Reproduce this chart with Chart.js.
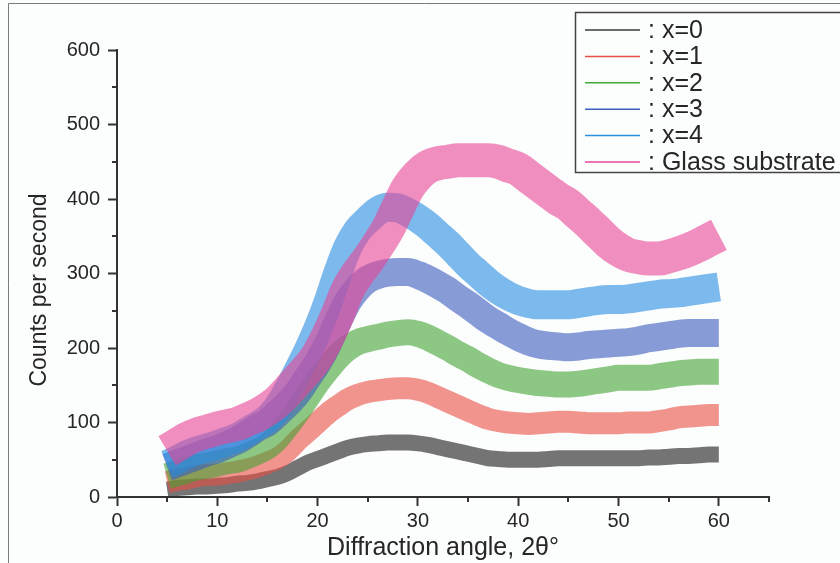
<!DOCTYPE html>
<html>
<head>
<meta charset="utf-8">
<script src="https://cdn.jsdelivr.net/npm/chart.js@4.4.1/dist/chart.umd.min.js"></script>
<style>
  html, body { margin: 0; padding: 0; background: #fcfdfd; }
  #wrap { width: 840px; height: 563px; }
</style>
</head>
<body>
<div id="wrap"><canvas id="xrd"></canvas></div>
<script>
// 2theta positions (degrees)
const angles = [5, 6, 7, 8, 9, 10, 11, 12, 13, 14, 15, 16, 17, 18, 19, 20, 21, 22, 23, 24, 25, 26, 27, 28, 29, 30,
    31, 32, 33, 34, 35, 36, 37, 38, 39, 40, 41, 42, 43, 44, 45, 46, 47, 48, 49, 50, 51, 52, 53, 54, 55, 56, 57, 58, 59, 60];

// counts per second (middle of each noisy band)
const countsX0 = [10, 12, 13, 14, 14, 15, 16, 18, 19, 21, 24, 27, 32, 39, 46, 51, 56, 61, 66, 69, 71, 72, 73, 73, 73, 72,
    70, 67, 64, 61, 58, 55, 52, 51, 50, 50, 50, 50, 51, 52, 52, 52, 52, 52, 52, 52, 52, 52, 53, 53, 54, 55, 55, 56, 57, 57];
const countsX1 = [20, 23, 25, 28, 30, 30, 32, 34, 37, 41, 46, 52, 62, 76, 88, 100, 112, 122, 131, 137, 141, 143, 145, 146, 146, 144,
    140, 134, 128, 122, 116, 110, 105, 102, 100, 99, 98, 99, 100, 101, 101, 100, 99, 99, 99, 99, 100, 100, 100, 102, 104, 107, 108, 109, 110, 110];
const countsX2 = [28, 32, 36, 40, 42, 45, 48, 50, 55, 61, 68, 80, 97, 115, 135, 155, 172, 188, 200, 208, 212, 215, 218, 220, 221, 219,
    214, 207, 200, 192, 185, 177, 170, 164, 160, 157, 155, 153, 152, 151, 151, 152, 154, 156, 158, 160, 160, 160, 160, 162, 164, 166, 167, 168, 168, 168];
const countsX3 = [40, 45, 50, 55, 60, 64, 70, 76, 84, 93, 100, 112, 125, 140, 160, 180, 205, 235, 262, 280, 292, 298, 301, 302, 302, 298,
    292, 285, 277, 267, 258, 248, 238, 230, 222, 215, 209, 205, 203, 202, 201, 202, 204, 205, 206, 207, 208, 210, 213, 215, 217, 219, 220, 220, 220, 220];
const countsX4 = [44, 50, 57, 62, 66, 70, 75, 80, 88, 96, 105, 120, 142, 168, 195, 225, 260, 300, 335, 358, 372, 384, 389, 388, 382, 374,
    364, 352, 340, 326, 312, 300, 288, 278, 270, 264, 260, 258, 258, 258, 258, 260, 262, 264, 265, 265, 266, 268, 270, 272, 273, 274, 276, 278, 280, 282];
const countsGlass = [62, 70, 78, 84, 88, 92, 95, 98, 104, 110, 118, 128, 142, 157, 172, 190, 215, 245, 278, 300, 318, 338, 360, 388, 415, 432,
    443, 448, 450, 452, 452, 452, 452, 450, 445, 440, 430, 420, 410, 400, 392, 380, 368, 355, 342, 332, 325, 322, 320, 320, 323, 327, 332, 338, 345, 352];

const seriesLabels = ["x=0", "x=1", "x=2", "x=3", "x=4", "Glass substrate"];
const seriesCounts = [countsX0, countsX1, countsX2, countsX3, countsX4, countsGlass];
const lineColors = ["#3a3a3a", "#e8524a", "#45a83a", "#3b62c0", "#2b8fe0", "#e8479a"];
const bandColors = ["rgba(45,45,45,0.66)", "rgba(235,78,68,0.6)", "rgba(66,164,52,0.6)",
    "rgba(56,92,190,0.6)", "rgba(38,140,225,0.6)", "rgba(232,68,150,0.6)"];
const bandWidths = [16, 22, 26, 28, 29, 34];

const xTicks = [0, 10, 20, 30, 40, 50, 60];
const yTicks = [0, 100, 200, 300, 400, 500, 600];

const textColor = "#262626";
const axisColor = "#333";
const fontFamily = "'Liberation Sans', Arial, sans-serif";

const datasets = seriesLabels.map((label, i) => ({
    label: label,
    data: angles.map((a, j) => ({x: a, y: seriesCounts[i][j]})),
    borderColor: bandColors[i],
    borderWidth: bandWidths[i],
    borderCapStyle: "butt",
    borderJoinStyle: "round",
    pointRadius: 0,
    cubicInterpolationMode: "monotone",
    fill: false,
    order: seriesLabels.length - i
}));

// background and scan frame
const paper = {
    id: "paper",
    beforeDraw(chart) {
        const ctx = chart.ctx;
        ctx.save();
        ctx.fillStyle = "#fcfdfd";
        ctx.fillRect(0, 0, chart.width, chart.height);
        ctx.strokeStyle = "#7a7a7a";
        ctx.lineWidth = 1;
        ctx.beginPath();
        ctx.moveTo(8.5, chart.height);
        ctx.lineTo(8.5, 3.5);
        ctx.lineTo(chart.width, 3.5);
        ctx.stroke();
        ctx.restore();
    }
};

// short minor ticks between the labelled ones, plus the y title
const minorTicks = {
    id: "minorTicks",
    afterDraw(chart) {
        const ctx = chart.ctx;
        const xs = chart.scales.x, ys = chart.scales.y;
        ctx.save();
        ctx.strokeStyle = axisColor;
        ctx.lineWidth = 2;
        ctx.beginPath();
        for (let v = 5; v <= 65; v += 10) {
            const px = Math.round(xs.getPixelForValue(v));
            ctx.moveTo(px, ys.bottom);
            ctx.lineTo(px, ys.bottom + 5);
        }
        for (let v = 50; v <= 550; v += 100) {
            const py = Math.round(ys.getPixelForValue(v));
            ctx.moveTo(xs.left, py);
            ctx.lineTo(xs.left - 5, py);
        }
        ctx.stroke();

        ctx.fillStyle = textColor;
        ctx.font = "23px " + fontFamily;
        ctx.textAlign = "center";
        ctx.textBaseline = "middle";
        ctx.translate(40, 290);
        ctx.rotate(-Math.PI / 2);
        ctx.fillText("Counts per second", 0, 0);
        ctx.restore();
    }
};

// boxed legend in the top right corner
const boxLegend = {
    id: "boxLegend",
    afterDraw(chart) {
        const ctx = chart.ctx;
        ctx.save();
        ctx.fillStyle = "#fcfdfd";
        ctx.fillRect(575, 12, 280, 161);
        ctx.strokeStyle = "#444";
        ctx.lineWidth = 1.5;
        ctx.strokeRect(575.5, 12.5, 280, 160);
        ctx.font = "25px " + fontFamily;
        ctx.textBaseline = "middle";
        ctx.textAlign = "left";
        chart.data.datasets.forEach((ds, i) => {
            const y = 30 + i * 26.4;
            ctx.strokeStyle = lineColors[i];
            ctx.lineWidth = 1.5;
            ctx.beginPath();
            ctx.moveTo(585, y);
            ctx.lineTo(640, y);
            ctx.stroke();
            ctx.fillStyle = textColor;
            ctx.fillText(": " + ds.label, 648, y + 1);
        });
        ctx.restore();
    }
};

const xrdChart = new Chart(document.getElementById("xrd"),
    {
        type: "line",
        data: {datasets: datasets},
        options: {
            responsive: true,
            maintainAspectRatio: false,
            devicePixelRatio: 1,
            animation: false,
            layout: {
                padding: {left: 0, top: 50, right: 71, bottom: 0}
            },
            plugins: {
                legend: {display: false},
                tooltip: {enabled: false}
            },
            scales: {
                x: {
                    type: "linear",
                    min: 0,
                    max: 65,
                    afterFit: (scale) => { scale.height = 66; },
                    afterBuildTicks: (scale) => { scale.ticks = xTicks.map(v => ({value: v})); },
                    ticks: {
                        color: textColor,
                        font: {family: fontFamily, size: 20},
                        padding: 3,
                        maxRotation: 0
                    },
                    grid: {drawOnChartArea: false, tickLength: 9, tickWidth: 2, tickColor: axisColor},
                    border: {display: true, color: axisColor, width: 2},
                    title: {
                        display: true,
                        text: "Diffraction angle, 2θ°",
                        color: textColor,
                        font: {family: fontFamily, size: 25},
                        padding: {top: 0, bottom: 0}
                    }
                },
                y: {
                    min: 0,
                    max: 600,
                    afterFit: (scale) => { scale.width = 117; },
                    afterBuildTicks: (scale) => { scale.ticks = yTicks.map(v => ({value: v})); },
                    ticks: {
                        color: textColor,
                        font: {family: fontFamily, size: 20},
                        padding: 8
                    },
                    grid: {drawOnChartArea: false, tickLength: 9, tickWidth: 2, tickColor: axisColor},
                    border: {display: true, color: axisColor, width: 2}
                }
            }
        },
        plugins: [paper, minorTicks, boxLegend]
    });
</script>
</body>
</html>
